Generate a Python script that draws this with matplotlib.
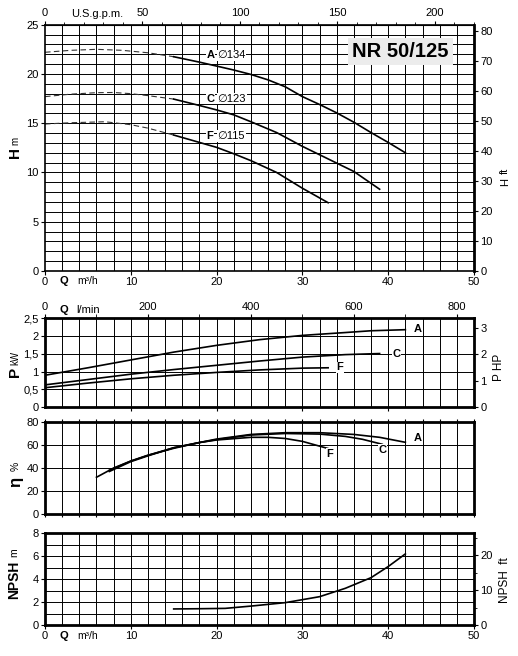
import numpy as np
import matplotlib
matplotlib.use('Agg')
import matplotlib.pyplot as plt
from matplotlib.transforms import blended_transform_factory

plt.rcParams['font.family'] = ['Liberation Sans', 'DejaVu Sans']
plt.rcParams['font.size'] = 8

# Head curves (Q m3/h, H m) ----
qa_dash = [0, 3, 6, 9, 12, 15]
ha_dash = [22.2, 22.4, 22.5, 22.4, 22.15, 21.75]
qa = [15, 18, 20, 22, 24, 26, 28, 30, 32, 34, 36, 38, 40, 42]
ha = [21.75, 21.2, 20.8, 20.4, 19.95, 19.4, 18.7, 17.7, 16.9, 16.05, 15.1, 14.05, 13.05, 12.0]

qc_dash = [0, 3, 6, 8, 10, 12, 15]
hc_dash = [17.7, 17.95, 18.1, 18.12, 18.0, 17.8, 17.45]
qc = [15, 18, 20, 22, 24, 27, 30, 32, 34, 36, 39]
hc = [17.45, 16.8, 16.35, 15.85, 15.15, 14.05, 12.65, 11.8, 10.95, 10.1, 8.3]

qf_dash = [0, 3, 7, 10, 12, 15]
hf_dash = [14.92, 15.05, 15.15, 14.85, 14.5, 13.8]
qf = [15, 18, 20, 22, 24, 27, 30, 33]
hf = [13.8, 13.05, 12.55, 11.9, 11.2, 10.0, 8.4, 6.93]

# Power curves (kW) ----
qpa = [0, 5, 10, 15, 20, 25, 30, 35, 38, 42]
pa = [0.9, 1.11, 1.33, 1.55, 1.74, 1.9, 2.02, 2.1, 2.15, 2.18]
qpc = [0, 5, 10, 15, 20, 25, 30, 35, 39]
pc = [0.63, 0.78, 0.93, 1.06, 1.18, 1.3, 1.41, 1.48, 1.51]
qpf = [0, 5, 10, 15, 20, 25, 30, 33]
pf = [0.55, 0.68, 0.8, 0.9, 0.98, 1.05, 1.1, 1.11]

# Efficiency curves (%) ----
qea = [6, 8, 10, 12, 15, 18, 20, 24, 28, 32, 36, 39, 42]
ea = [32, 40, 46, 51, 57, 62, 65, 69, 70.5, 70.5, 69, 66.5, 62.2]
qec = [7.5, 10, 12, 15, 18, 20, 24, 28, 32, 35, 37, 39.3]
ec = [38, 46, 51, 57.5, 62, 64.5, 68.5, 69.8, 69.3, 67.3, 64.8, 60.5]
qef = [7.5, 10, 12, 15, 18, 20, 24, 26, 28, 30, 33.3]
ef = [37, 45.5, 50.5, 57.5, 62, 64.2, 66.5, 66.5, 65.5, 63, 56.2]

# NPSH curve (m) ----
qn = [15, 18, 21, 24, 28, 32, 35, 38, 40, 42]
npsh = [1.4, 1.42, 1.45, 1.65, 1.95, 2.47, 3.2, 4.13, 5.1, 6.2]

tick_fs = 8
fig = plt.figure(figsize=(5.18, 6.56), dpi=100)

def base_axes(rect, ymax, ystep, frame_lw):
    ax = fig.add_axes(rect)
    ax.set_xlim(0, 50)
    ax.set_ylim(0, ymax)
    # grid drawn by hand so that no line gets dropped
    for x in np.arange(2, 50, 2):
        ax.axvline(x, color='black', linewidth=0.7, zorder=0.5)
    for y in np.arange(ystep, ymax - 1e-9, ystep):
        ax.axhline(y, color='black', linewidth=0.7, zorder=0.5)
    for s in ax.spines.values():
        s.set_linewidth(frame_lw)
    ax.tick_params(which='major', length=3, width=0.8, labelsize=tick_fs, pad=1.5)
    return ax

# ---- Head chart ----
ax1 = base_axes([45/518, 1 - 271/656, 429/518, 246.3/656], 25, 1, 1.2)
ax1.spines['right'].set_linewidth(2)
ax1.set_yticks([0, 5, 10, 15, 20, 25])
ax1.set_xticks([0, 10, 20, 30, 40, 50])
for qd, hd, qs, hs in [(qa_dash, ha_dash, qa, ha), (qc_dash, hc_dash, qc, hc), (qf_dash, hf_dash, qf, hf)]:
    ax1.plot(qd, hd, color='#333333', linewidth=0.8, dashes=(5, 3))
    ax1.plot(qs, hs, color='black', linewidth=1.2)
for name, dia, q0, h0 in [('A', '\u2205134', 18.8, 21.9), ('C', '\u2205123', 18.8, 17.5), ('F', '\u2205115', 18.8, 13.7)]:
    ax1.text(q0, h0, name, fontsize=8, fontweight='bold', va='center', ha='left',
             bbox=dict(facecolor='white', edgecolor='none', pad=0.5))
    ax1.text(q0 + 1.3, h0, dia, fontsize=8, va='center', ha='left',
             bbox=dict(facecolor='white', edgecolor='none', pad=0.5))
ax1.text(41.4, 22.3, 'NR 50/125', fontsize=14.5, fontweight='bold', ha='center', va='center',
         bbox=dict(facecolor='#ececec', edgecolor='none', pad=3))
tr1 = blended_transform_factory(ax1.transData, ax1.transAxes)
ax1.text(1.7, -0.022, 'Q', fontsize=8, fontweight='bold', transform=tr1, va='top')
ax1.text(3.8, -0.022, 'm\u00b3/h', fontsize=7.5, transform=tr1, va='top')

top1 = ax1.secondary_xaxis('top', functions=(lambda q: q * 4.403, lambda g: g / 4.403))
top1.set_xticks([0, 50, 100, 150, 200])
top1.set_xticks(np.arange(0, 221, 10), minor=True)
top1.tick_params(which='major', length=3, labelsize=tick_fs, pad=1.5)
top1.tick_params(which='minor', length=2)
ax1.text(3.0, 1.022, 'U.S.g.p.m.', fontsize=8, transform=tr1, va='bottom')

r1 = ax1.secondary_yaxis('right', functions=(lambda m: m * 3.2808, lambda f: f / 3.2808))
r1.set_yticks(np.arange(0, 81, 10))
r1.tick_params(length=3, labelsize=tick_fs, pad=1.5)

fig.text(15/518, 1 - 153/656, 'H', fontsize=11, fontweight='bold', rotation=90, ha='center', va='center')
fig.text(15/518, 1 - 141/656, 'm', fontsize=7, rotation=90, ha='center', va='center')
fig.text(505/518, 1 - 182/656, 'H', fontsize=8, rotation=90, ha='center', va='center')
fig.text(505/518, 1 - 171/656, 'ft', fontsize=8, rotation=90, ha='center', va='center')

# ---- Power chart ----
ax2 = base_axes([45/518, 1 - 407.3/656, 429/518, 89/656], 2.5, 0.5, 2)
ax2.set_yticks([0, 0.5, 1, 1.5, 2, 2.5])
ax2.set_yticklabels(['0', '0,5', '1', '1,5', '2', '2,5'])
ax2.set_xticks([10, 20, 30, 40])
ax2.set_xticklabels([])
ax2.plot(qpa, pa, color='black', linewidth=1.2)
ax2.plot(qpc, pc, color='black', linewidth=1.2)
ax2.plot(qpf, pf, color='black', linewidth=1.2)
for name, q0, p0 in [('A', 43.0, 2.2), ('C', 40.5, 1.51), ('F', 34.0, 1.12)]:
    ax2.text(q0, p0, name, fontsize=8, fontweight='bold', va='center', ha='left',
             bbox=dict(facecolor='white', edgecolor='none', pad=0.5))
top2 = ax2.secondary_xaxis('top', functions=(lambda q: q * 1000 / 60, lambda l: l * 60 / 1000))
top2.set_xticks([0, 200, 400, 600, 800])
top2.set_xticks(np.arange(0, 801, 100), minor=True)
top2.tick_params(which='major', length=3, labelsize=tick_fs, pad=1.5)
top2.tick_params(which='minor', length=3)
tr2 = blended_transform_factory(ax2.transData, ax2.transAxes)
ax2.text(1.7, 1.04, 'Q', fontsize=8, fontweight='bold', transform=tr2, va='bottom')
ax2.text(3.6, 1.04, 'l/min', fontsize=8, transform=tr2, va='bottom')
r2 = ax2.secondary_yaxis('right', functions=(lambda k: k * 1.341, lambda h: h / 1.341))
r2.set_yticks([0, 1, 2, 3])
r2.tick_params(length=3, labelsize=tick_fs, pad=1.5)

fig.text(15/518, 1 - 372/656, 'P', fontsize=11, fontweight='bold', rotation=90, ha='center', va='center')
fig.text(15/518, 1 - 358/656, 'kW', fontsize=7, rotation=90, ha='center', va='center')
fig.text(499/518, 1 - 367/656, 'P HP', fontsize=8.5, rotation=90, ha='center', va='center')

# ---- Efficiency chart ----
ax3 = base_axes([45/518, 1 - 514.3/656, 429/518, 92.6/656], 80, 20, 2)
ax3.set_yticks([0, 20, 40, 60, 80])
ax3.set_xticks(np.arange(0, 51, 2))
ax3.set_xticklabels([])
ax3.tick_params(axis='x', which='major', length=2, top=True)
ax3.plot(qea, ea, color='black', linewidth=1.2)
ax3.plot(qec, ec, color='black', linewidth=1.2)
ax3.plot(qef, ef, color='black', linewidth=1.2)
for name, q0, e0 in [('A', 43.0, 65.5), ('C', 38.9, 55.5), ('F', 32.8, 52.0)]:
    ax3.text(q0, e0, name, fontsize=8, fontweight='bold', va='center', ha='left',
             bbox=dict(facecolor='white', edgecolor='none', pad=0.5))
fig.text(16/518, 1 - 482/656, '\u03b7', fontsize=12, fontweight='bold', rotation=90, ha='center', va='center')
fig.text(16/518, 1 - 466/656, '%', fontsize=7.5, rotation=90, ha='center', va='center')

# ---- NPSH chart ----
ax4 = base_axes([45/518, 1 - 625/656, 429/518, 91.7/656], 8, 1, 2)
ax4.set_yticks([0, 2, 4, 6, 8])
ax4.set_xticks([0, 10, 20, 30, 40, 50])
ax4.plot(qn, npsh, color='black', linewidth=1.2)
tr4 = blended_transform_factory(ax4.transData, ax4.transAxes)
ax4.text(1.7, -0.06, 'Q', fontsize=8, fontweight='bold', transform=tr4, va='top')
ax4.text(3.8, -0.06, 'm\u00b3/h', fontsize=7.5, transform=tr4, va='top')
r4 = ax4.secondary_yaxis('right', functions=(lambda m: m * 3.2808, lambda f: f / 3.2808))
r4.set_yticks([0, 10, 20])
r4.set_yticks([5, 15, 25], minor=True)
r4.tick_params(which='major', length=3, labelsize=tick_fs, pad=1.5)
r4.tick_params(which='minor', length=2)

fig.text(14/518, 1 - 580/656, 'NPSH', fontsize=10, fontweight='bold', rotation=90, ha='center', va='center')
fig.text(14/518, 1 - 553/656, 'm', fontsize=7.5, rotation=90, ha='center', va='center')
fig.text(505/518, 1 - 580/656, 'NPSH  ft', fontsize=8.5, rotation=90, ha='center', va='center')

fig.savefig('out.png', dpi=100)
